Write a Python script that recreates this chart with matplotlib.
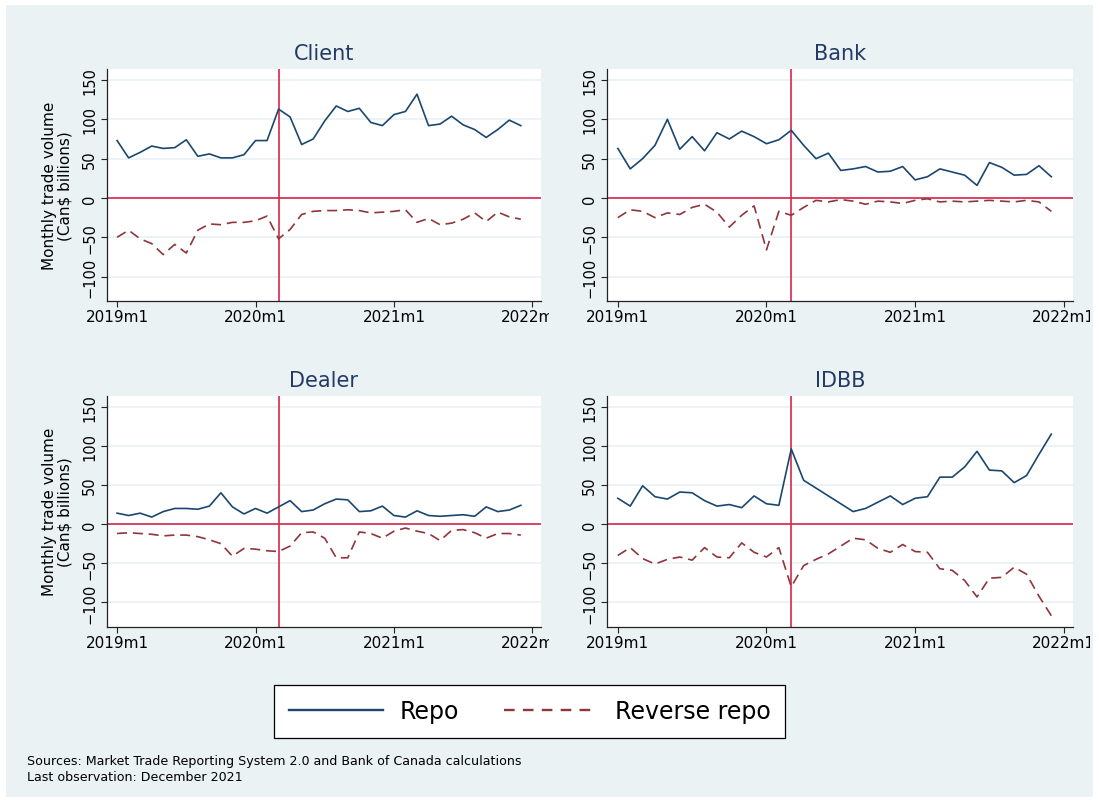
import numpy as np
import matplotlib
matplotlib.use("Agg")
import matplotlib.pyplot as plt
from matplotlib.patches import Rectangle
from matplotlib.lines import Line2D
from matplotlib.transforms import Bbox, TransformedBbox

# monthly data, 2019m1 .. 2021m12 (Can$ billions)
months = np.arange(36)
tick_pos = [0, 12, 24, 36]
tick_labels = ['2019m1', '2020m1', '2021m1', '2022m1']
covid_month = 14  # 2020m3

client_repo = [73, 51, 58, 66, 63, 64, 74, 53, 56, 51, 51, 55, 73, 73, 113, 103, 68, 75,
               98, 117, 110, 114, 96, 92, 106, 110, 132, 92, 94, 104, 93, 87, 77, 87, 99, 92]
client_rev = [-50, -41, -52, -58, -72, -59, -70, -41, -33, -34, -31, -31, -29, -23, -52, -40, -21, -17,
              -16, -16, -15, -16, -19, -18, -17, -15, -31, -26, -34, -32, -27, -19, -30, -18, -24, -27]

bank_repo = [63, 37, 50, 67, 100, 62, 78, 60, 83, 75, 85, 78, 69, 74, 86, 67, 50, 57,
             35, 37, 40, 33, 34, 40, 23, 27, 37, 33, 29, 16, 45, 39, 29, 30, 41, 27]
bank_rev = [-25, -15, -17, -25, -19, -21, -12, -8, -18, -37, -22, -10, -66, -17, -22, -12, -3, -5,
            -2, -4, -8, -4, -5, -7, -3, -1, -5, -4, -5, -4, -3, -4, -5, -3, -5, -17]

dealer_repo = [14, 11, 14, 9, 16, 20, 20, 19, 23, 40, 22, 13, 20, 14, 22, 30, 16, 18,
               26, 32, 31, 16, 17, 23, 11, 9, 17, 11, 10, 11, 12, 10, 22, 16, 18, 24]
dealer_rev = [-12, -11, -12, -13, -15, -14, -14, -16, -20, -25, -41, -31, -32, -34, -35, -28, -11, -10,
              -18, -43, -43, -10, -12, -18, -9, -5, -9, -12, -21, -8, -7, -11, -18, -12, -12, -14]

idbb_repo = [33, 23, 49, 35, 32, 41, 40, 30, 23, 25, 21, 36, 26, 24, 96, 56, 46, 36,
             26, 16, 20, 28, 36, 25, 33, 35, 60, 60, 73, 93, 69, 68, 53, 62, 89, 115]
idbb_rev = [-40, -30, -44, -51, -45, -42, -46, -30, -42, -43, -24, -36, -42, -30, -80, -53, -45, -38,
            -28, -18, -20, -31, -36, -26, -35, -36, -57, -59, -72, -93, -69, -68, -55, -64, -92, -117]

panels = [
    ('Client', client_repo, client_rev),
    ('Bank', bank_repo, bank_rev),
    ('Dealer', dealer_repo, dealer_rev),
    ('IDBB', idbb_repo, idbb_rev),
]

BG = '#eaf2f3'
REPO_C = '#1a476f'
REV_C = '#90353b'
RED = '#d7284b'
TITLE_C = '#243a66'

plt.rcParams['font.family'] = 'DejaVu Sans'

W, H = 1099, 804
fig = plt.figure(figsize=(W / 100, H / 100), dpi=100, facecolor='white')
fig.patches.append(Rectangle((6 / W, 6 / H), (W - 12) / W, (H - 12) / H,
                             transform=fig.transFigure, facecolor=BG,
                             edgecolor='none', zorder=-10))

# axes boxes in pixels: left, top, right, bottom
boxes = [
    (106.7, 70, 541, 302),
    (606.7, 70, 1073, 302),
    (106.7, 396.7, 541, 627.7),
    (606.7, 396.7, 1073, 627.7),
]
clip_right = [549, 1090, 549, 1090]

for i, (name, repo, rev) in enumerate(panels):
    l, t, r, b = boxes[i]
    ax = fig.add_axes([l / W, 1 - b / H, (r - l) / W, (b - t) / H])
    ax.set_facecolor('white')

    ax.plot(months, repo, color=REPO_C, lw=1.2, zorder=3)
    ax.plot(months, rev, color=REV_C, lw=1.2, dashes=(6, 3.5), zorder=3)
    ax.axhline(0, color=RED, lw=1.2, zorder=2)
    ax.axvline(covid_month, color=RED, lw=1.2, zorder=2)

    ax.set_xlim(-0.9, 36.75)
    ax.set_ylim(-131, 164)
    ax.set_yticks([-100, -50, 0, 50, 100, 150])
    ax.set_xticks(tick_pos)
    ax.set_xticklabels(tick_labels)
    ax.grid(axis='y', color=BG, lw=1.3, zorder=0)
    ax.set_axisbelow(True)

    for s in ['top', 'right']:
        ax.spines[s].set_visible(False)
    for s in ['left', 'bottom']:
        ax.spines[s].set_color('#222222')
        ax.spines[s].set_linewidth(0.9)

    ax.tick_params(axis='both', direction='out', length=4, width=0.8, color='#222222')
    ax.tick_params(axis='x', labelsize=11, pad=2)
    ax.tick_params(axis='y', labelsize=10.5, pad=3)
    for lab in ax.get_yticklabels():
        lab.set_rotation(90)
        lab.set_va('center')

    # the last date label is cut off by the panel edge
    cb = TransformedBbox(Bbox.from_extents(0, 0, clip_right[i] / W, 1), fig.transFigure)
    for tk in ax.xaxis.get_major_ticks():
        tk.label1.set_clip_on(True)
        tk.label1.set_clip_box(cb)

    ax.set_title(name, fontsize=15, color=TITLE_C, pad=7)
    if i % 2 == 0:
        ax.set_ylabel('Monthly trade volume\n(Can\\$ billions)', fontsize=11, labelpad=7,
                      linespacing=1.0)

handles = [Line2D([], [], color=REPO_C, lw=1.7),
           Line2D([], [], color=REV_C, lw=1.7, dashes=(4.5, 3.5))]
leg = fig.legend(handles, ['Repo', 'Reverse repo'], loc='center',
                 bbox_to_anchor=(529.5 / W, 1 - 712.5 / H), ncol=2, fontsize=17,
                 frameon=True, fancybox=False, edgecolor='black', framealpha=1,
                 handlelength=4.0, handletextpad=0.7, columnspacing=1.9,
                 borderpad=0.6, borderaxespad=0)
leg.get_frame().set_linewidth(0.9)

fig.text(27 / W, 1 - 762 / H, 'Sources: Market Trade Reporting System 2.0 and Bank of Canada calculations',
         fontsize=9.1, va='center', ha='left')
fig.text(27 / W, 1 - 778 / H, 'Last observation: December 2021',
         fontsize=9.1, va='center', ha='left')

fig.savefig('out.png', dpi=100, facecolor='white')
